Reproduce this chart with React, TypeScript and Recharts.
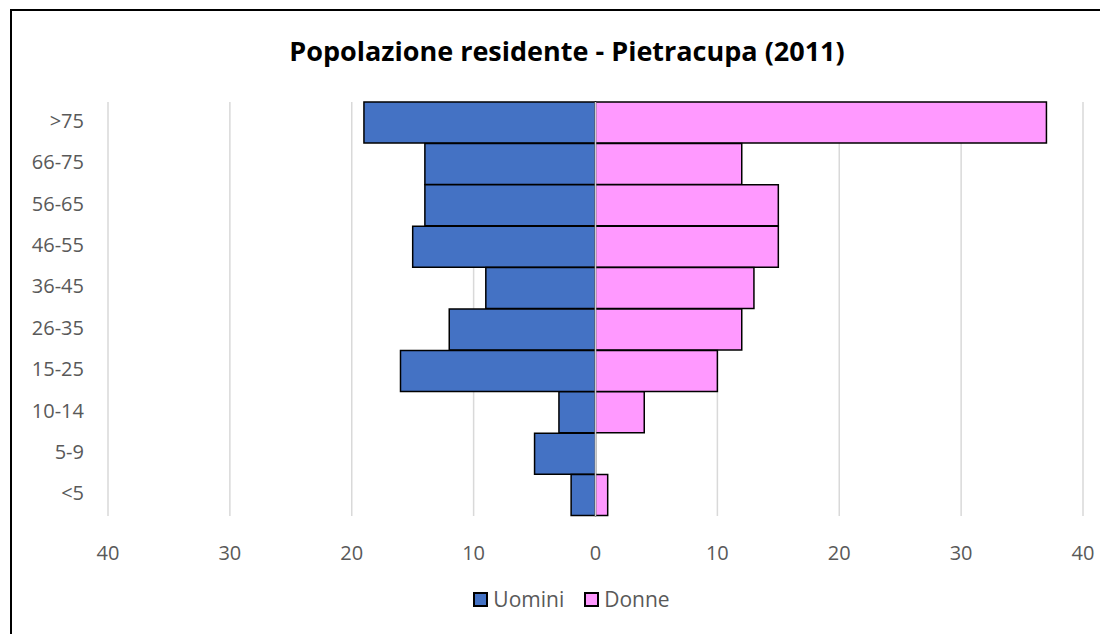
import {
  Bar,
  BarChart,
  CartesianGrid,
  Legend,
  ReferenceLine,
  XAxis,
  YAxis,
} from "recharts";

const ageGroups = [">75", "66-75", "56-65", "46-55", "36-45", "26-35", "15-25", "10-14", "5-9", "<5"];
const uomini = [19, 14, 14, 15, 9, 12, 16, 3, 5, 2];
const donne = [37, 12, 15, 15, 13, 12, 10, 4, 0, 1];
const xTicks = [-40, -30, -20, -10, 0, 10, 20, 30, 40];

const data = ageGroups.map((age, i) => ({
  age,
  uomini: -uomini[i],
  donne: donne[i],
}));

const font = "'Open Sans', sans-serif";

function LegendContent() {
  const items = [
    { name: "Uomini", color: "#4472c4" },
    { name: "Donne", color: "#ff99ff" },
  ];
  return (
    <div
      style={{
        display: "flex",
        justifyContent: "center",
        gap: 20,
        fontFamily: font,
        fontSize: 21,
        color: "#595959",
        marginTop: 9,
        paddingLeft: 48,
      }}
    >
      {items.map((it) => (
        <div key={it.name} style={{ display: "flex", alignItems: "center", gap: 5 }}>
          <span style={{ width: 11, height: 11, background: it.color, border: "2px solid #000" }} />
          <span>{it.name}</span>
        </div>
      ))}
    </div>
  );
}

export default function App() {
  return (
    <div
      style={{
        position: "relative",
        marginLeft: 2,
        marginTop: 1,
        borderLeft: "2px solid #000",
        borderTop: "2px solid #000",
        width: 1096,
        height: 623,
        background: "#fff",
      }}
    >
      <div
        style={{
          position: "absolute",
          top: 21,
          left: 0,
          width: 1110,
          textAlign: "center",
          fontFamily: font,
          fontWeight: 700,
          fontSize: 27,
          color: "#000",
        }}
      >
        Popolazione residente - Pietracupa (2011)
      </div>
      <BarChart
        width={1096}
        height={623}
        data={data}
        layout="vertical"
        stackOffset="sign"
        barCategoryGap={0}
        margin={{ top: 91, right: 25, bottom: 0, left: 0 }}
      >
        <CartesianGrid horizontal={false} stroke="#d9d9d9" strokeWidth={1.5} />
        <XAxis
          type="number"
          domain={[-40, 40]}
          ticks={xTicks}
          tickFormatter={(v) => String(Math.abs(v))}
          axisLine={false}
          tickLine={false}
          tickMargin={24}
          height={60}
          tick={{ fill: "#595959", fontSize: 20, fontFamily: font }}
        />
        <YAxis
          type="category"
          dataKey="age"
          width={96}
          axisLine={false}
          tickLine={false}
          tickMargin={18}
          tick={{ fill: "#595959", fontSize: 20, fontFamily: font, dy: -2 }}
        />
        <Bar dataKey="uomini" name="Uomini" stackId="a" fill="#4472c4" stroke="#000" strokeWidth={1.5} isAnimationActive={false} />
        <Bar dataKey="donne" name="Donne" stackId="a" fill="#ff99ff" stroke="#000" strokeWidth={1.5} isAnimationActive={false} />
        <ReferenceLine x={0} stroke="#d0d0d0" strokeWidth={1.5} />
        <Legend verticalAlign="bottom" height={58} content={<LegendContent />} wrapperStyle={{ paddingTop: 0 }} />
      </BarChart>
    </div>
  );
}
